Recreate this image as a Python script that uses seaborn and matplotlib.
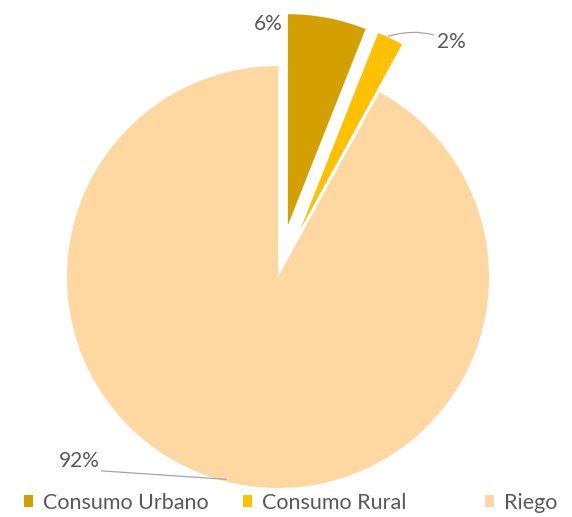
import numpy as np
import matplotlib
matplotlib.use("Agg")
import matplotlib.pyplot as plt
import seaborn as sns

categories = ["Consumo Urbano", "Consumo Rural", "Riego"]
values = [6, 2, 92]
labels = ["6%", "2%", "92%"]
colors = ["#D3A000", "#FFC000", "#FFD8A1"]
explode = [0.25, 0.25, 0.0]

sns.set_theme(style="white")
plt.rcParams['font.family'] = ['Lato', 'DejaVu Sans']
TXT = "#595959"
LINE = "#A6A6A6"

fig = plt.figure(figsize=(5.72, 5.17), dpi=100)
ax = fig.add_axes([0, 0, 1, 1])
R = 211.0
cx, cy = 278.0, 277.0
W, H = 572.0, 517.0

wedges, _ = ax.pie(values, colors=colors, explode=explode, startangle=90,
                   counterclock=False, radius=1.0,
                   wedgeprops=dict(linewidth=0))
ax.set_aspect('auto')
ax.set_xlim(-cx / R, (W - cx) / R)
ax.set_ylim(-(H - cy) / R, cy / R)
ax.axis('off')

def geom(w):
    c = np.array(w.center)
    t1, t2 = np.deg2rad(w.theta1), np.deg2rad(w.theta2)
    return c, t1, t2

# 6% label: left of the upper corner of the Urbano wedge
c, t1, t2 = geom(wedges[0])
corner = c + np.array([np.cos(t2), np.sin(t2)])
ax.text(corner[0] - 0.025, corner[1] - 0.045, labels[0], ha='right', va='center',
        fontsize=15, color=TXT)

# 2% label with leader line
c, t1, t2 = geom(wedges[1])
tm = (t1 + t2) / 2
p = c + np.array([np.cos(tm), np.sin(tm)])
ax.annotate(labels[1], xy=(p[0] - 0.01, p[1] + 0.01), xytext=(p[0] + 0.22, p[1] - 0.015),
            ha='left', va='center', fontsize=15, color=TXT,
            arrowprops=dict(arrowstyle='-', color=LINE, lw=0.9,
                            shrinkA=0, shrinkB=0,
                            connectionstyle="arc3,rad=0.2"))

# 92% label with leader line
c, t1, t2 = geom(wedges[2])
tm = (t1 + t2) / 2
p = c + 0.99 * np.array([np.cos(tm), np.sin(tm)])
start = p + np.array([-0.59, 0.04])
ax.plot([start[0], p[0]], [start[1], p[1]], color=LINE, lw=0.9)
ax.text(start[0] - 0.01, start[1] + 0.045, labels[2], ha='right', va='center',
        fontsize=15, color=TXT)

# legend entries
handle_x = [24, 243, 485]
for w, name, hx in zip(wedges, categories, handle_x):
    lg = fig.legend([w], [name], loc='center left',
                    bbox_to_anchor=(hx / W, 1 - 503 / H),
                    frameon=False, fontsize=15.5, labelcolor=TXT,
                    handlelength=0.4, handleheight=0.5, handletextpad=0.5,
                    borderpad=0, borderaxespad=0)

fig.savefig("out.png", dpi=100)
